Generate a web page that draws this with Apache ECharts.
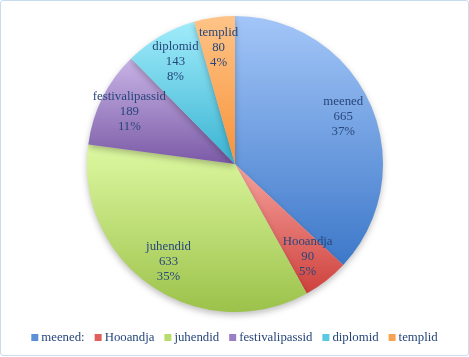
<!DOCTYPE html>
<html><head><meta charset="utf-8">
<script src="https://cdn.jsdelivr.net/npm/echarts@6/dist/echarts.min.js"></script>
<style>
html,body{margin:0;padding:0;background:#fff;}
#c{position:absolute;left:0;top:0;width:467px;height:354px;border:1px solid #c9dbef;border-radius:3px;}
</style></head>
<body><div id="c"></div>
<script>
const categories = ['meened', 'Hooandja', 'juhendid', 'festivalipassid', 'diplomid', 'templid'];
const legendNames = ['meened:', 'Hooandja', 'juhendid', 'festivalipassid', 'diplomid', 'templid'];
const values = [665, 90, 633, 189, 143, 80];
const percentLabels = ['37%', '5%', '35%', '11%', '8%', '4%'];

const gradients = [
  ['#a3c6f8', '#3d78c9'],
  ['#f6a39f', '#cf413c'],
  ['#def9a2', '#9cc24a'],
  ['#c8b4e6', '#7b5aa6'],
  ['#a0ecfa', '#39b3d2'],
  ['#ffc487', '#f7923a']
];
const legendColors = ['#5b8fd6', '#e0605b', '#b9dc6f', '#9a7fc6', '#5cc9e3', '#f9a353'];

function grad(i) {
  return new echarts.graphic.LinearGradient(0, 0, 0, 1, [
    {offset: 0, color: gradients[i][0]},
    {offset: 1, color: gradients[i][1]}
  ]);
}

const pieData = categories.map((c, i) => ({
  name: c, value: values[i],
  itemStyle: {color: grad(i)}
}));
const labelData = categories.map((c, i) => ({name: c, value: values[i]}));

const chart = echarts.init(document.getElementById('c'), null, {renderer: 'canvas'});
chart.setOption({
  animation: false,
  legend: {
    data: categories.map((c, i) => ({name: c, itemStyle: {color: legendColors[i]}})),
    formatter: function (n) { return legendNames[categories.indexOf(n)]; },
    bottom: 6,
    left: 'center',
    icon: 'rect',
    itemWidth: 7,
    itemHeight: 7,
    itemGap: 10,
    textStyle: {fontFamily: 'Liberation Serif', fontSize: 12.8, color: '#27467a', padding: [0, 0, 0, -2]}
  },
  series: [
    {
      type: 'pie',
      center: [234, 163],
      radius: [0, 148],
      startAngle: 90,
      clockwise: true,
      silent: true,
      label: {show: false},
      labelLine: {show: false},
      itemStyle: {shadowBlur: 6, shadowOffsetY: 3, shadowColor: 'rgba(0,0,0,0.25)', borderWidth: 0},
      data: pieData
    },
    {
      type: 'pie',
      center: [234, 163],
      radius: [82, 148],
      startAngle: 90,
      clockwise: true,
      silent: true,
      itemStyle: {color: 'rgba(0,0,0,0)'},
      labelLine: {show: false},
      label: {
        show: true,
        position: 'inside',
        formatter: function (p) { return p.name + '\n' + p.value + '\n' + percentLabels[p.dataIndex]; },
        fontFamily: 'Liberation Serif',
        fontSize: 12.8,
        lineHeight: 15,
        color: '#27467a',
        align: 'center'
      },
      data: labelData
    }
  ]
});
</script></body></html>
